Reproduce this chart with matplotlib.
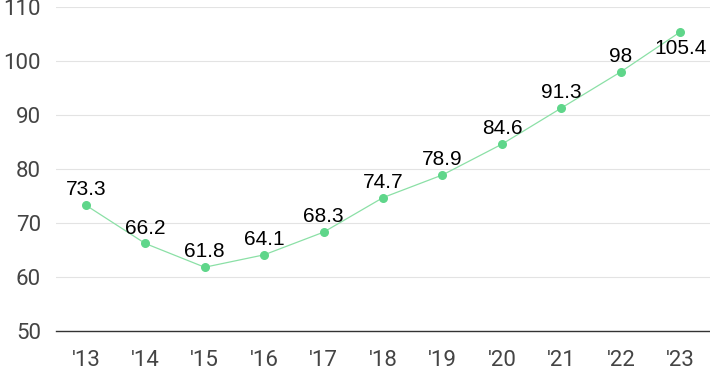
import numpy as np
import matplotlib.pyplot as plt

years = ["'13", "'14", "'15", "'16", "'17", "'18", "'19", "'20", "'21", "'22", "'23"]
values = [73.3, 66.2, 61.8, 64.1, 68.3, 74.7, 78.9, 84.6, 91.3, 98, 105.4]
labels = ["73.3", "66.2", "61.8", "64.1", "68.3", "74.7", "78.9", "84.6", "91.3", "98", "105.4"]

x = np.arange(len(years))

fig = plt.figure(figsize=(7.1, 3.71), dpi=100)
ax = fig.add_axes([0.079, 0.108, 0.921, 0.873])

ax.plot(x, values, color="#8be0a6", linewidth=0.9, zorder=3)
ax.scatter(x, values, s=30, color="#5fd68a", zorder=4)

for i, (v, lab) in enumerate(zip(values, labels)):
    off = -12 if i == len(values) - 1 else 11
    ax.annotate(lab, (i, v), xytext=(0, off), textcoords="offset points",
                ha="center", va="center", fontsize=15, color="#000000",
                family="Liberation Sans")

ax.set_xlim(-0.5, 10.5)
ax.set_ylim(50, 110)
ax.set_yticks([50, 60, 70, 80, 90, 100, 110])
ax.set_xticks(x)
ax.set_xticklabels(years)
ax.grid(axis="y", color="#e3e3e3", linewidth=0.8)
ax.set_axisbelow(True)
for s in ["top", "right", "left"]:
    ax.spines[s].set_visible(False)
ax.spines["bottom"].set_color("#333333")
ax.spines["bottom"].set_linewidth(1.0)
ax.tick_params(length=0, labelsize=16, colors="#444444", pad=14)
ax.tick_params(axis="y", pad=11)
for t in ax.get_xticklabels() + ax.get_yticklabels():
    t.set_family("Roboto")

plt.savefig("out.png", dpi=100)
